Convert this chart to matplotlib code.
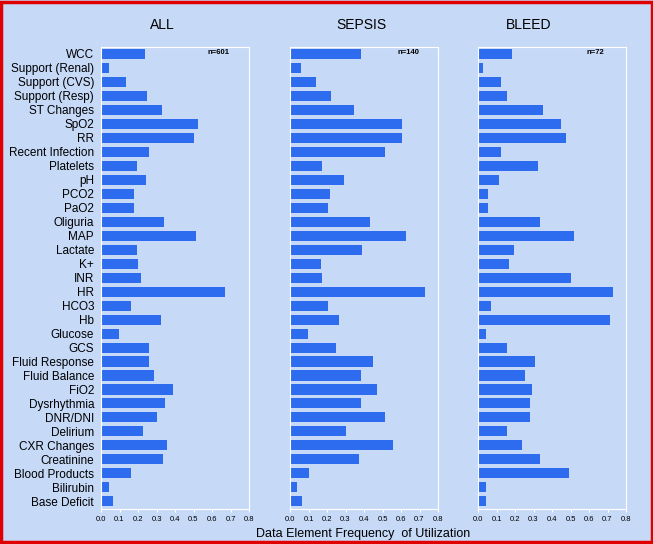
import matplotlib.pyplot as plt
import matplotlib.patches as patches
import numpy as np

plt.rcParams['font.family'] = ['Liberation Sans', 'DejaVu Sans']

# data
elements = ['WCC', 'Support (Renal)', 'Support (CVS)', 'Support (Resp)', 'ST Changes',
            'SpO2', 'RR', 'Recent Infection', 'Platelets', 'pH', 'PCO2', 'PaO2',
            'Oliguria', 'MAP', 'Lactate', 'K+', 'INR', 'HR', 'HCO3', 'Hb', 'Glucose',
            'GCS', 'Fluid Response', 'Fluid Balance', 'FiO2', 'Dysrhythmia', 'DNR/DNI',
            'Delirium', 'CXR Changes', 'Creatinine', 'Blood Products', 'Bilirubin',
            'Base Deficit']

all_freq = [0.238, 0.043, 0.133, 0.249, 0.330, 0.524, 0.503, 0.259, 0.195, 0.243,
            0.178, 0.178, 0.341, 0.513, 0.195, 0.200, 0.216, 0.670, 0.162, 0.324,
            0.097, 0.259, 0.259, 0.286, 0.389, 0.346, 0.303, 0.227, 0.357, 0.335,
            0.162, 0.043, 0.065]

sepsis_freq = [0.384, 0.060, 0.142, 0.219, 0.345, 0.603, 0.608, 0.515, 0.175, 0.290,
               0.214, 0.208, 0.433, 0.625, 0.389, 0.170, 0.175, 0.729, 0.203, 0.263,
               0.099, 0.247, 0.449, 0.384, 0.471, 0.384, 0.515, 0.301, 0.559, 0.373,
               0.104, 0.038, 0.066]

bleed_freq = [0.184, 0.027, 0.124, 0.157, 0.351, 0.449, 0.476, 0.124, 0.324, 0.114,
              0.054, 0.054, 0.335, 0.519, 0.195, 0.168, 0.503, 0.730, 0.070, 0.714,
              0.043, 0.157, 0.308, 0.254, 0.292, 0.281, 0.281, 0.157, 0.238, 0.335,
              0.492, 0.043, 0.043]

titles = ['ALL', 'SEPSIS', 'BLEED']
n_labels = ['n=601', 'n=140', 'n=72']
xticks = [0.0, 0.1, 0.2, 0.3, 0.4, 0.5, 0.6, 0.7, 0.8]

# style
bg = '#C6D9F7'
bar_color = '#2D6BEF'

fig = plt.figure(figsize=(6.53, 5.44), dpi=100, facecolor=bg)
fig.patches.append(patches.Rectangle((0.002, 0.003), 0.996, 0.994, transform=fig.transFigure,
                                     fill=False, edgecolor='#E00000', linewidth=2.5))

lefts = [101 / 653, 290 / 653, 478 / 653]
title_x = [162 / 653, 361 / 653, 529 / 653]
n_x = [218 / 653, 408 / 653, 595 / 653]
y = np.arange(len(elements))

for i, freq in enumerate([all_freq, sepsis_freq, bleed_freq]):
    ax = fig.add_axes([lefts[i], 35 / 544, 148 / 653, 462 / 544], facecolor=bg)
    ax.barh(y, freq, height=0.72, color=bar_color)
    ax.set_xlim(0, 0.8)
    ax.set_ylim(32.55, -0.5)
    ax.set_xticks(xticks)
    ax.set_xticklabels(['%.1f' % t for t in xticks], fontsize=5.5)
    ax.tick_params(axis='x', length=2, width=0.8, color='white', pad=3)
    ax.tick_params(axis='y', length=0)
    if i == 0:
        ax.set_yticks(y)
        ax.set_yticklabels(elements, fontsize=8.5)
        ax.tick_params(axis='y', pad=5)
    else:
        ax.set_yticks([])
    for side in ['top', 'bottom', 'left', 'right']:
        ax.spines[side].set_color('white')
        ax.spines[side].set_linewidth(0.8)
    ax.text(n_x[i], 1 - 53 / 544, n_labels[i], transform=fig.transFigure,
            fontsize=5.5, fontweight='bold', ha='center', va='center')
    fig.text(title_x[i], 1 - 25 / 544, titles[i], fontsize=10, ha='center', va='center')

fig.text(363 / 653, 1 - 534 / 544, 'Data Element Frequency  of Utilization',
         fontsize=9, ha='center', va='center')

plt.savefig('out.png', dpi=100, facecolor=bg)
